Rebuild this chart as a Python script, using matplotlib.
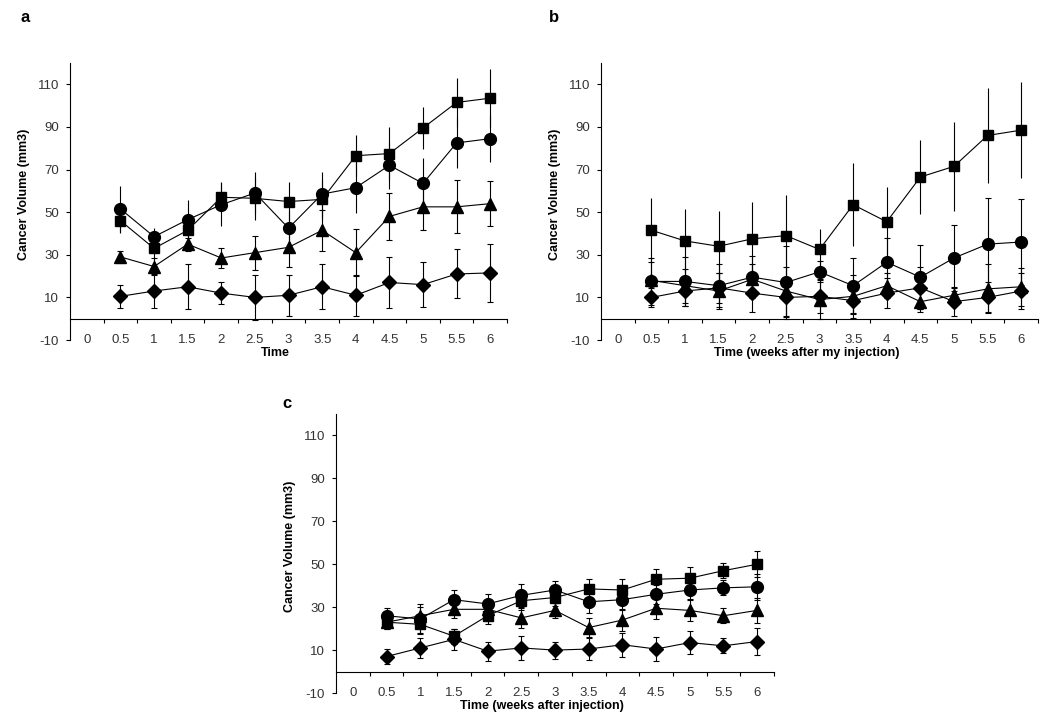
import numpy as np
import matplotlib
matplotlib.use("Agg")
import matplotlib.pyplot as plt

plt.rcParams['font.family'] = ['Liberation Sans', 'DejaVu Sans']
plt.rcParams['axes.unicode_minus'] = False

# x categories (Excel-style category axis), data start at "0.5"
categories = ["0", "0.5", "1", "1.5", "2", "2.5", "3", "3.5", "4", "4.5", "5", "5.5", "6"]
y_ticks = [-10, 10, 30, 50, 70, 90, 110]

# panel a
a_sq = [46, 33, 41.5, 57, 56.5, 55, 56, 76.5, 77.5, 89.5, 101.5, 103.5]
a_sq_err = [6, 5, 5, 7, 10, 9, 9, 9.5, 12.5, 10, 11.5, 13.5]
a_ci = [51.5, 38.5, 46.5, 53.5, 59, 42.5, 58.5, 61.5, 72, 63.5, 82.5, 84.5]
a_ci_err = [11, 4, 9, 10, 10, 8, 10.5, 12, 11, 12, 12, 11]
a_tr = [29, 24.5, 35, 28.5, 31, 33.5, 41.5, 31, 48, 52.5, 52.5, 54]
a_tr_err = [3, 4, 3, 4.5, 8, 9, 9.5, 11, 11, 11, 12.5, 10.5]
a_di = [10.5, 13, 15, 12, 10, 11, 15, 11, 17, 16, 21, 21.5]
a_di_err = [5.5, 8, 10.5, 5, 10.5, 9.5, 10.5, 9.5, 12, 10.5, 11.5, 13.5]

# panel b
b_sq = [41.5, 36.5, 34, 37.5, 39, 32.5, 53.5, 45.5, 66.5, 71.5, 86, 88.5]
b_sq_err = [15, 15, 16.5, 17.5, 19, 9.5, 19.5, 16.5, 17.5, 21, 22.5, 22.5]
b_ci = [17.5, 17.5, 15.5, 19.5, 17, 22, 15.5, 26.5, 19.5, 28.5, 35, 36]
b_ci_err = [11, 11.5, 10, 10, 17, 5, 13, 11.5, 15, 15.5, 21.5, 20]
b_tr = [18, 15.5, 13, 18.5, 13, 9, 10.5, 15.5, 8, 11, 14, 15]
b_tr_err = [8.5, 8, 8.5, 7, 11.5, 9, 10, 6, 5, 4, 11.5, 9]
b_di = [10, 13, 14.5, 12, 10, 10.5, 8.5, 12, 14.5, 8, 10, 13]
b_di_err = [4.5, 7, 7, 9, 9, 8, 6.5, 7, 10, 6.5, 7, 8.5]

# panel c
c_sq = [23, 22, 16.5, 26, 33, 34.5, 38.5, 38, 43, 43.5, 47, 50]
c_sq_err = [3, 4, 3.5, 4, 4.5, 4, 4.5, 5, 5, 5, 3.5, 6]
c_ci = [26, 24.5, 33.5, 31.5, 35.5, 38, 32.5, 33.5, 36, 38, 39, 39.5]
c_ci_err = [3.5, 7, 4.5, 4.5, 5.5, 4, 5, 5, 4.5, 4, 3.5, 6]
c_tr = [23, 26, 29, 29, 25, 28.5, 20.5, 24, 29.5, 28.5, 26, 28.5]
c_tr_err = [3, 4, 4, 3.5, 4.5, 3.5, 4.5, 5, 5, 5, 3.5, 6]
c_di = [7, 11, 15, 9.5, 11, 10, 10.5, 12.5, 10.5, 13.5, 12, 14]
c_di_err = [3.5, 4.5, 5, 4.5, 5.5, 4, 5, 5.5, 5.5, 5.5, 3.5, 6.5]

MARKERS = {"sq": ("s", 6.5), "ci": ("o", 8.5), "tr": ("^", 8.5), "di": ("D", 7.2)}


def draw_panel(ax, series, xlabel, caps):
    n = len(categories)
    xs = np.arange(1, n)
    for key, vals, errs in series:
        m, ms = MARKERS[key]
        cs = 2.5 if caps[key] else 0
        ax.errorbar(xs, vals, yerr=errs, color="black", lw=0.8, elinewidth=0.8,
                    capsize=cs, capthick=0.8, marker=m, ms=ms, mfc="black",
                    mec="black", zorder=3)
    ax.set_xlim(-0.5, n - 0.5)
    ax.set_ylim(-10, 120)
    for s in ("top", "right"):
        ax.spines[s].set_visible(False)
    ax.spines["bottom"].set_position(("data", 0))
    ax.spines["left"].set_linewidth(0.8)
    ax.spines["bottom"].set_linewidth(0.8)
    ax.set_xticks(np.arange(0.5, n, 1.0))
    ax.set_xticklabels([])
    ax.tick_params(axis="x", direction="out", length=3, width=0.8)
    ax.set_yticks(y_ticks)
    ax.tick_params(axis="y", direction="out", length=3, width=0.8,
                   labelsize=9.5, labelcolor="#333333", pad=5)
    for i, lab in enumerate(categories):
        ax.text(i, -10, lab, ha="center", va="center", fontsize=9.5, color="#333333")
    ax.text(0.47, -0.047, xlabel, transform=ax.transAxes, ha="center", va="center",
            fontsize=9, fontweight="bold")
    ax.text(-0.105, 0.525, "Cancer Volume (mm3)", transform=ax.transAxes, rotation=90,
            ha="center", va="center", fontsize=9, fontweight="bold")


fig = plt.figure(figsize=(10.5, 7.21), dpi=100)
ax_a = fig.add_axes([0.0667, 0.5284, 0.4162, 0.3842])
ax_b = fig.add_axes([0.5724, 0.5284, 0.4162, 0.3842])
ax_c = fig.add_axes([0.3200, 0.0388, 0.4171, 0.3870])

draw_panel(ax_a, [("sq", a_sq, a_sq_err), ("ci", a_ci, a_ci_err),
                  ("tr", a_tr, a_tr_err), ("di", a_di, a_di_err)],
           "Time", {"sq": False, "ci": False, "tr": True, "di": True})
draw_panel(ax_b, [("sq", b_sq, b_sq_err), ("ci", b_ci, b_ci_err),
                  ("tr", b_tr, b_tr_err), ("di", b_di, b_di_err)],
           "Time (weeks after my injection)", {"sq": False, "ci": True, "tr": True, "di": True})
draw_panel(ax_c, [("sq", c_sq, c_sq_err), ("ci", c_ci, c_ci_err),
                  ("tr", c_tr, c_tr_err), ("di", c_di, c_di_err)],
           "Time (weeks after injection)", {"sq": True, "ci": True, "tr": True, "di": True})

fig.text(25 / 1050, 1 - 17 / 721, "a", ha="center", va="center", fontsize=12, fontweight="bold")
fig.text(554 / 1050, 1 - 17 / 721, "b", ha="center", va="center", fontsize=12, fontweight="bold")
fig.text(287 / 1050, 1 - 403 / 721, "c", ha="center", va="center", fontsize=12, fontweight="bold")

fig.savefig("out.png", dpi=100)
